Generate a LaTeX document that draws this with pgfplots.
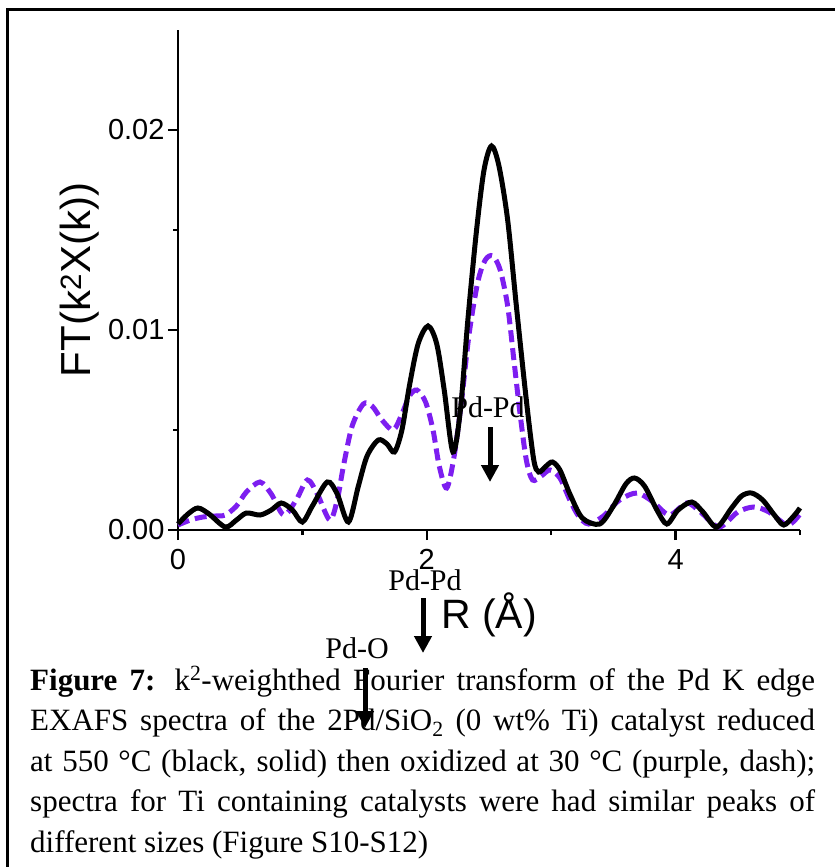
\documentclass[border=0pt]{standalone}
\usepackage{pgfplots}
\pgfplotsset{compat=1.18}
\usepackage{pgfplotstable}
\usepackage{fontspec}
\setmainfont{Liberation Serif}
\newfontfamily\arial{Liberation Sans}
\usetikzlibrary{arrows.meta}
\definecolor{oviolet}{RGB}{125,30,240}

% reduced at 550 C (black, solid)
\pgfplotstableread{
R y
0.00 0.0003
0.08 0.0008
0.16 0.0011
0.25 0.0008
0.38 0.00015
0.47 0.0005
0.55 0.00085
0.66 0.00075
0.75 0.0010
0.83 0.00135
0.92 0.0010
1.00 0.0004
1.08 0.0012
1.20 0.0024
1.28 0.0018
1.37 0.0004
1.45 0.0022
1.52 0.0037
1.61 0.0045
1.68 0.0043
1.74 0.0039
1.80 0.0050
1.86 0.0072
1.93 0.0093
2.01 0.0102
2.08 0.0093
2.14 0.0070
2.21 0.0039
2.27 0.0060
2.33 0.0105
2.40 0.0150
2.46 0.0180
2.52 0.0192
2.58 0.0182
2.65 0.0155
2.72 0.0112
2.80 0.0065
2.86 0.0035
2.90 0.0029
2.96 0.0032
3.01 0.0034
3.07 0.0030
3.15 0.0018
3.25 0.0006
3.39 0.0003
3.50 0.0012
3.60 0.0023
3.67 0.0026
3.75 0.0022
3.85 0.0010
3.93 0.0003
4.02 0.0010
4.13 0.0014
4.22 0.0009
4.33 0.00015
4.45 0.0011
4.53 0.0017
4.61 0.00185
4.70 0.0015
4.80 0.0007
4.87 0.00025
4.95 0.0007
5.00 0.0011
}\reduced

% oxidized at 30 C (purple, dash)
\pgfplotstableread{
R y
0.00 0.00025
0.10 0.0005
0.20 0.00065
0.30 0.0007
0.38 0.00075
0.47 0.0012
0.55 0.0019
0.66 0.0024
0.75 0.0018
0.85 0.00075
0.95 0.0015
1.04 0.0025
1.12 0.0018
1.22 0.0005
1.28 0.0015
1.33 0.0032
1.40 0.0052
1.49 0.0063
1.56 0.0062
1.64 0.0055
1.73 0.0050
1.80 0.0058
1.86 0.0067
1.92 0.0070
1.99 0.0064
2.05 0.0050
2.10 0.0032
2.16 0.0021
2.22 0.0037
2.28 0.0065
2.34 0.0098
2.41 0.0124
2.47 0.0135
2.53 0.0137
2.59 0.0130
2.65 0.0112
2.70 0.0085
2.75 0.0058
2.80 0.0035
2.85 0.0025
2.92 0.0027
2.99 0.0030
3.07 0.0026
3.15 0.0015
3.22 0.0007
3.30 0.0003
3.42 0.0007
3.55 0.0015
3.69 0.00185
3.82 0.0014
3.95 0.00075
4.09 0.00135
4.20 0.0009
4.35 0.00015
4.50 0.0009
4.63 0.00115
4.75 0.0009
4.90 0.00025
5.00 0.0008
}\oxidized

\begin{document}
\begin{tikzpicture}[x=1pt,y=1pt]
\path[use as bounding box] (0,0) rectangle (835,-867);
\draw[line width=3pt] (7,-867) -- (7,-10) -- (835,-10);

\begin{axis}[
    at={(178pt,-530pt)}, anchor=south west,
    scale only axis, width=622pt, height=500pt,
    xmin=0, xmax=5, ymin=0, ymax=0.025,
    axis lines=left,
    axis line style={-, line width=2.5pt},
    clip=false,
    xtick={0,2,4}, minor xtick={1,3,5},
    ytick={0,0.01,0.02}, minor ytick={0.005,0.015},
    tick align=outside,
    major tick length=10pt, minor tick length=5pt,
    every tick/.style={black, line width=2.5pt},
    scaled y ticks=false,
    yticklabel style={/pgf/number format/.cd, fixed, fixed zerofill, precision=2},
    xticklabel style={yshift=-6pt},
    /pgf/number format/assume math mode=true,
    ticklabel style={font=\arial\fontsize{29}{29}\selectfont},
    xlabel={R (Å)},
    ylabel={FT(k\textsuperscript{2}X(k))},
    xlabel style={font=\arial\fontsize{41}{41}\selectfont, at={(axis description cs:0.5,-0.17)}, anchor=center},
    ylabel style={font=\arial\fontsize{42}{42}\selectfont, at={(axis description cs:-0.158,0.5)}, anchor=center},
]
\addplot[oviolet, line width=5pt, dash pattern=on 12pt off 6pt, smooth] table[x=R, y=y] {\oxidized};
\addplot[black, line width=5pt, smooth] table[x=R, y=y] {\reduced};
\end{axis}

\node[anchor=base west, inner sep=0pt] at (30,-690) {\parbox[t]{785pt}{\fontsize{31}{40.5}\selectfont
\textbf{Figure 7:} k\textsuperscript{2}-weighthed Fourier transform of the Pd K edge\linebreak
EXAFS spectra of the 2Pd/SiO\textsubscript{2} (0 wt\% Ti) catalyst reduced\linebreak
at 550 °C (black, solid) then oxidized at 30 °C (purple, dash);\linebreak
spectra for Ti containing catalysts were had similar peaks of\linebreak
different sizes (Figure S10-S12)}};

\begin{scope}[font=\fontsize{30}{30}\selectfont]
\node[anchor=base, inner sep=0pt] at (488,-417) {Pd-Pd};
\draw[line width=5pt, -{Triangle[width=17pt,length=17pt]}] (490,-427) -- (490,-482);
\node[anchor=base, inner sep=0pt] at (425,-590) {Pd-Pd};
\draw[line width=5pt, -{Triangle[width=17pt,length=17pt]}] (423,-598) -- (423,-653);
\node[anchor=base, inner sep=0pt] at (357,-658) {Pd-O};
\draw[line width=5pt, -{Triangle[width=17pt,length=17pt]}] (365,-668) -- (365,-728);
\end{scope}
\end{tikzpicture}
\end{document}
